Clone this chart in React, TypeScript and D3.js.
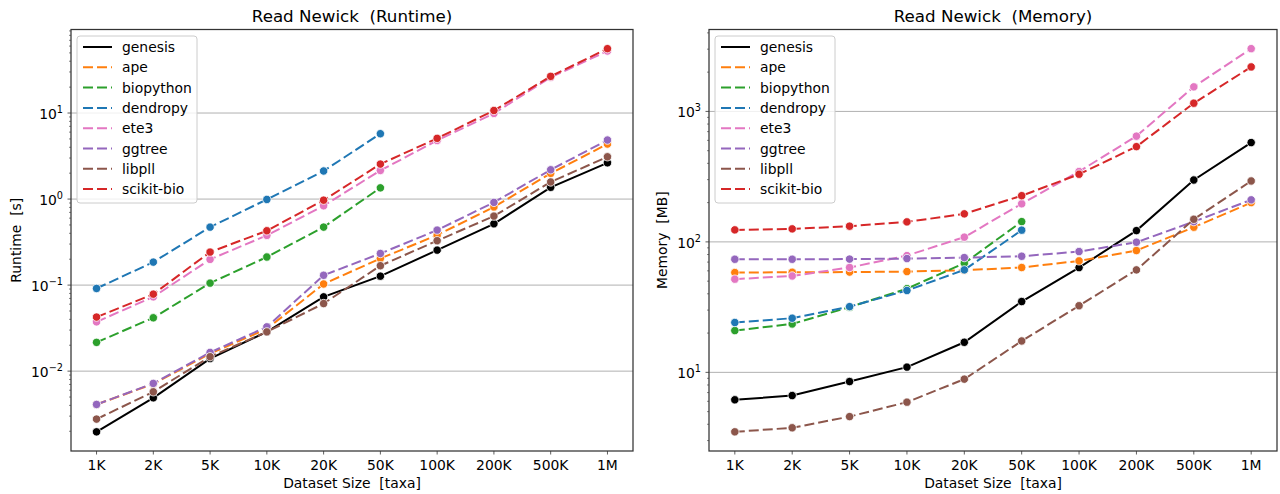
import React from "react";
import * as d3 from "d3";

// dataset sizes (x categories)
const sizes = ["1K", "2K", "5K", "10K", "20K", "50K", "100K", "200K", "500K", "1M"];
const tools = ["genesis", "ape", "biopython", "dendropy", "ete3", "ggtree", "libpll", "scikit-bio"];
const toolColors = ["#000000", "#ff7f0e", "#2ca02c", "#1f77b4", "#e377c2", "#9467bd", "#8c564b", "#d62728"];

// runtime in seconds
const runtimeGenesis = [0.00197, 0.0049, 0.014, 0.0286, 0.073, 0.127, 0.255, 0.516, 1.37, 2.64];
const runtimeApe = [0.0041, 0.0071, 0.016, 0.031, 0.103, 0.204, 0.381, 0.81, 1.99, 4.36];
const runtimeBiopython = [0.0216, 0.0417, 0.1055, 0.212, 0.472, 1.35];
const runtimeDendropy = [0.0914, 0.185, 0.472, 0.99, 2.12, 5.75];
const runtimeEte3 = [0.0374, 0.073, 0.199, 0.378, 0.836, 2.15, 4.8, 9.9, 26, 52.6];
const runtimeGgtree = [0.0041, 0.0072, 0.0165, 0.0327, 0.13, 0.233, 0.436, 0.915, 2.19, 4.85];
const runtimeLibpll = [0.00277, 0.00575, 0.0147, 0.0286, 0.061, 0.168, 0.328, 0.634, 1.58, 3.1];
const runtimeScikit = [0.0425, 0.0785, 0.242, 0.428, 0.97, 2.55, 5.08, 10.7, 26.7, 56];

// memory in MB
const memoryGenesis = [6.16, 6.64, 8.5, 10.97, 17.0, 34.9, 63.5, 122, 298, 577];
const memoryApe = [58.2, 58.5, 58.7, 59.2, 60.7, 63.6, 71.5, 85.8, 129.6, 200];
const memoryBiopython = [20.9, 23.5, 31.6, 43.8, 68.7, 143];
const memoryDendropy = [24.1, 26, 31.9, 42.4, 61, 123];
const memoryEte3 = [51.8, 54.8, 63.6, 78.5, 108.7, 196, 346, 646, 1542, 3027];
const memoryGgtree = [73.6, 73.6, 73.8, 74.5, 75.8, 77.6, 84.3, 99.4, 143, 210];
const memoryLibpll = [3.5, 3.76, 4.58, 5.91, 8.87, 17.4, 32.4, 61, 149, 293];
const memoryScikit = [123.6, 125.8, 131.9, 142.3, 164, 226, 330, 537, 1156, 2193];

const runtimeSeries = [runtimeGenesis, runtimeApe, runtimeBiopython, runtimeDendropy, runtimeEte3, runtimeGgtree, runtimeLibpll, runtimeScikit];
const memorySeries = [memoryGenesis, memoryApe, memoryBiopython, memoryDendropy, memoryEte3, memoryGgtree, memoryLibpll, memoryScikit];

const runtimeTicks = [-2, -1, 0, 1];
const memoryTicks = [1, 2, 3];

const FONT = "DejaVu Sans, sans-serif";
const FS = 13.9;

function Panel({ left, right, top, bottom, title, ylabel, ylabelX, series, ticks }) {
  const x = d3.scalePoint().domain(sizes).range([left, right]).padding(0.45);

  const all = series.flat();
  const lo = Math.log10(d3.min(all));
  const hi = Math.log10(d3.max(all));
  const pad = (hi - lo) * 0.05;
  const y = d3.scaleLog().domain([10 ** (lo - pad), 10 ** (hi + pad)]).range([bottom, top]);

  const minor = [];
  for (let d = Math.floor(lo - pad); d <= Math.ceil(hi + pad); d++) {
    for (let k = 2; k <= 9; k++) {
      const v = k * 10 ** d;
      if (v >= y.domain()[0] && v <= y.domain()[1]) minor.push(v);
    }
  }

  const line = d3.line<[string, number]>().x(d => x(d[0])).y(d => y(d[1]));
  const cx = (left + right) / 2;
  const cy = (top + bottom) / 2;

  const legX = left + 6;
  const legY = top + 6.5;
  const rowH = 20.3;

  return (
    <g>
      <rect x={left} y={top} width={right - left} height={bottom - top} fill="#fff" />
      {ticks.map(t => (
        <line key={t} x1={left} x2={right} y1={y(10 ** t)} y2={y(10 ** t)} stroke="#b0b0b0" strokeWidth={1} />
      ))}
      {series.map((vals, i) => {
        const pts = vals.map((v, j) => [sizes[j], v] as [string, number]);
        return (
          <g key={tools[i]}>
            <path d={line(pts)} fill="none" stroke={toolColors[i]} strokeWidth={2}
              strokeDasharray={i === 0 ? undefined : "10,4"} />
            {pts.map(p => (
              <circle key={p[0]} cx={x(p[0])} cy={y(p[1])} r={4.2} fill={toolColors[i]} stroke="#fff" strokeWidth={0.8} />
            ))}
          </g>
        );
      })}
      <rect x={left} y={top} width={right - left} height={bottom - top} fill="none" stroke="#333" strokeWidth={1.25} />

      {/* y ticks */}
      {minor.map(v => (
        <line key={v} x1={left - 2} x2={left} y1={y(v)} y2={y(v)} stroke="#333" strokeWidth={0.6} />
      ))}
      {ticks.map(t => (
        <g key={t}>
          <line x1={left - 3.5} x2={left} y1={y(10 ** t)} y2={y(10 ** t)} stroke="#333" strokeWidth={0.8} />
          <text x={left - 8} y={y(10 ** t) + 6} textAnchor="end" fontFamily={FONT} fontSize={FS}>
            10<tspan dy={-6} fontSize={FS * 0.7}>{t < 0 ? "\u2212" + Math.abs(t) : t}</tspan>
          </text>
        </g>
      ))}

      {/* x ticks */}
      {sizes.map(s => (
        <g key={s}>
          <line x1={x(s)} x2={x(s)} y1={bottom} y2={bottom + 3.5} stroke="#333" strokeWidth={0.8} />
          <text x={x(s)} y={bottom + 18.5} textAnchor="middle" fontFamily={FONT} fontSize={FS}>{s}</text>
        </g>
      ))}

      <text x={cx} y={bottom + 37} textAnchor="middle" fontFamily={FONT} fontSize={FS} style={{ whiteSpace: "pre" }}>
        Dataset Size  [taxa]
      </text>
      <text transform={`translate(${ylabelX},${cy}) rotate(-90)`} textAnchor="middle" fontFamily={FONT} fontSize={FS}
        style={{ whiteSpace: "pre" }}>
        {ylabel}
      </text>
      <text x={cx} y={top - 8} textAnchor="middle" fontFamily={FONT} fontSize={16.7} style={{ whiteSpace: "pre" }}>
        {title}
      </text>

      {/* legend */}
      <rect x={legX} y={legY} width={120} height={167} rx={3} fill="#fff" fillOpacity={0.8} stroke="#cccccc" strokeWidth={1} />
      {tools.map((t, i) => {
        const ry = legY + 11 + i * rowH;
        return (
          <g key={t}>
            <line x1={legX + 6} x2={legX + 35} y1={ry} y2={ry} stroke={toolColors[i]} strokeWidth={2}
              strokeDasharray={i === 0 ? undefined : "10,4"} />
            <text x={legX + 45} y={ry + 5} fontFamily={FONT} fontSize={FS}>{t}</text>
          </g>
        );
      })}
    </g>
  );
}

export default function App() {
  return (
    <svg width={1280} height={494} style={{ position: "absolute", left: 0, top: 0, background: "#fff" }}>
      <rect width={1280} height={494} fill="#fff" />
      <Panel left={71} right={633} top={29.5} bottom={451} title="Read Newick  (Runtime)" ylabel="Runtime  [s]"
        ylabelX={20.5} series={runtimeSeries} ticks={runtimeTicks} />
      <Panel left={709} right={1277} top={29.5} bottom={451} title="Read Newick  (Memory)" ylabel="Memory  [MB]"
        ylabelX={667} series={memorySeries} ticks={memoryTicks} />
    </svg>
  );
}
